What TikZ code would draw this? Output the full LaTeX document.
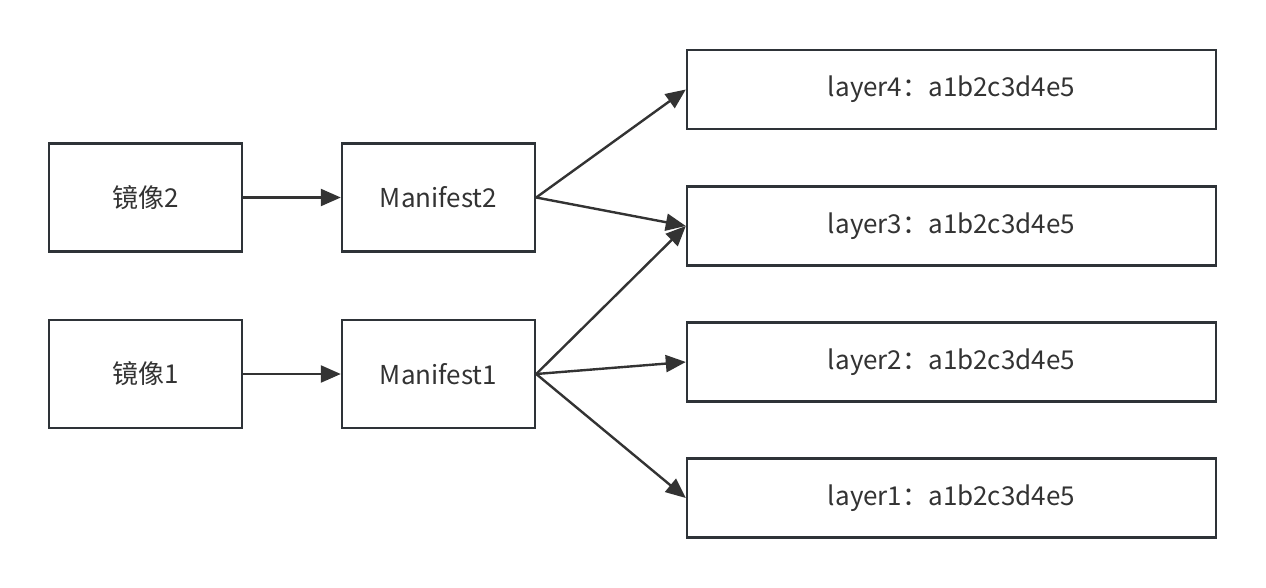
\documentclass[tikz,border=0pt]{standalone}
\usepackage{fontspec}
\setmainfont{Noto Sans CJK SC}
\usetikzlibrary{arrows.meta}
\definecolor{ink}{HTML}{333333}
\definecolor{edge}{HTML}{2E3338}
\begin{document}
\begin{tikzpicture}[x=1pt,y=-1pt,
  box/.style={draw=edge,line width=2.4pt,fill=white,text=ink,font=\fontsize{26}{30}\selectfont,inner sep=0pt},
  conn/.style={draw=ink,line width=2.4pt,-{Triangle[length=20pt,width=17pt]}}]
\useasboundingbox[fill=white] (0,0) rectangle (1266,588);
\node[box,minimum width=193pt,minimum height=108pt] (img2) at (145.5,197.5) {镜像2};
\node[box,minimum width=193pt,minimum height=108pt] (img1) at (145.5,374) {镜像1};
\node[box,minimum width=193pt,minimum height=108pt] (m2) at (438.5,197.5) {Manifest2};
\node[box,minimum width=193pt,minimum height=108pt] (m1) at (438.5,374) {Manifest1};
\node[box,minimum width=529pt,minimum height=79pt] (l4) at (951.5,89.5) {layer4：a1b2c3d4e5};
\node[box,minimum width=529pt,minimum height=79pt] (l3) at (951.5,226) {layer3：a1b2c3d4e5};
\node[box,minimum width=529pt,minimum height=79pt] (l2) at (951.5,362) {layer2：a1b2c3d4e5};
\node[box,minimum width=529pt,minimum height=79pt] (l1) at (951.5,498) {layer1：a1b2c3d4e5};
\draw[conn] (img2.east) -- (m2.west);
\draw[conn] (img1.east) -- (m1.west);
\draw[conn] (m2.east) -- (l4.west);
\draw[conn] (m2.east) -- (l3.west);
\draw[conn] (m1.east) -- (l3.west);
\draw[conn] (m1.east) -- (l2.west);
\draw[conn] (m1.east) -- (l1.west);
\end{tikzpicture}
\end{document}
